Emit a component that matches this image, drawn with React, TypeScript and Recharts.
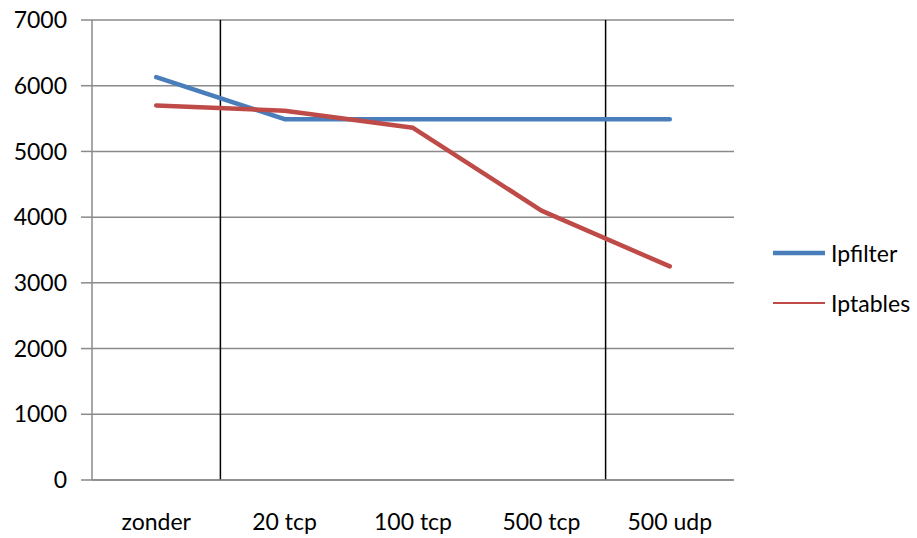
import React from 'react';
import {
  LineChart,
  Line,
  XAxis,
  YAxis,
  CartesianGrid,
  ReferenceLine,
  Legend,
} from 'recharts';

const categories = ['zonder', '20 tcp', '100 tcp', '500 tcp', '500 udp'];
const ipfilterValues = [6130, 5490, 5490, 5490, 5490];
const iptablesValues = [5700, 5620, 5360, 4100, 3250];
const yTicks = [0, 1000, 2000, 3000, 4000, 5000, 6000, 7000];
const boundaryTicks = [0, 1, 2, 3, 4, 5];
const dividerLines = [1, 4];

const series = [
  { key: 'Ipfilter', color: '#4A7EBB', legendWidth: 4.5 },
  { key: 'Iptables', color: '#BE4B48', legendWidth: 2 },
];

const data = categories.map((name, i) => ({
  name,
  pos: i + 0.5,
  Ipfilter: ipfilterValues[i],
  Iptables: iptablesValues[i],
}));

const FONT = 'Lato, "Open Sans", sans-serif';
const FONT_SIZE = 23;
const GRID = '#8a8a8a';

const LegendBox = () => (
  <div style={{ width: 183, paddingLeft: 39, paddingTop: 18, boxSizing: 'border-box', fontFamily: FONT, fontSize: FONT_SIZE, color: '#000' }}>
    {series.map((s) => (
      <div key={s.key} style={{ height: 50, display: 'flex', alignItems: 'center' }}>
        <svg width={52} height={10} style={{ marginRight: 6 }}>
          <line x1={0} x2={52} y1={5} y2={5} stroke={s.color} strokeWidth={s.legendWidth} />
        </svg>
        <span>{s.key}</span>
      </div>
    ))}
  </div>
);

export default function App() {
  return (
    <div style={{ position: 'fixed', left: 0, top: 0, width: 917, height: 538, background: '#fff' }}>
      <LineChart width={917} height={538} data={data} margin={{ top: 20, right: 0, bottom: 0, left: 0 }}>
        <CartesianGrid xAxisId="grid" vertical={false} stroke={GRID} strokeWidth={1.5} />
        <XAxis
          xAxisId="grid"
          type="number"
          dataKey="pos"
          domain={[0, 5]}
          ticks={boundaryTicks}
          tick={false}
          tickSize={10}
          height={10}
          stroke={GRID}
          axisLine={{ stroke: GRID, strokeWidth: 1.5 }}
          tickLine={{ stroke: GRID, strokeWidth: 1.5 }}
        />
        <XAxis
          xAxisId="labels"
          type="category"
          dataKey="name"
          scale="band"
          axisLine={false}
          tickLine={false}
          tickMargin={18}
          height={48}
          tick={{ fill: '#000', fontFamily: FONT, fontSize: FONT_SIZE }}
        />
        <YAxis
          width={92}
          domain={[0, 7000]}
          ticks={yTicks}
          tickSize={11}
          tickMargin={14}
          axisLine={{ stroke: GRID, strokeWidth: 1.5 }}
          tickLine={{ stroke: GRID, strokeWidth: 1.5 }}
          tick={{ fill: '#000', fontFamily: FONT, fontSize: FONT_SIZE }}
        />
        {dividerLines.map((x) => (
          <ReferenceLine key={x} xAxisId="grid" x={x} stroke="#000" strokeWidth={1.5} />
        ))}
        <Legend layout="vertical" align="right" verticalAlign="middle" content={<LegendBox />} />
        {series.map((s) => (
          <Line
            key={s.key}
            xAxisId="grid"
            type="linear"
            dataKey={s.key}
            stroke={s.color}
            strokeWidth={4.5}
            strokeLinecap="round"
            strokeLinejoin="round"
            dot={false}
            activeDot={false}
            isAnimationActive={false}
          />
        ))}
      </LineChart>
    </div>
  );
}
